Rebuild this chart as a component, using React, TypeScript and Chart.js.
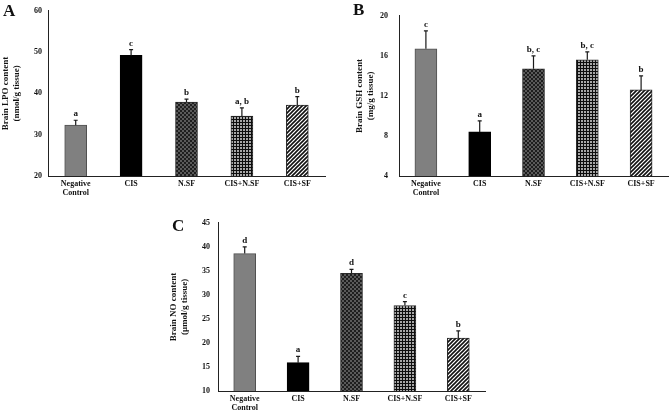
import React, { useEffect, useRef } from "react";
import { Chart, registerables } from "chart.js";

Chart.register(...registerables);

const FONT = "'Liberation Serif', 'Times New Roman', serif";

const categories: (string | string[])[] = [["Negative", "Control"], "CIS", "N.SF", "CIS+N.SF", "CIS+SF"];

const lpoMeans = [32.3, 49.2, 37.9, 34.5, 37.2];
const lpoErrors = [1.2, 1.4, 0.7, 2.0, 2.0];
const lpoLetters = ["a", "c", "b", "a, b", "b"];
const lpoTitle = ["Brain LPO content", "(nmol/g tissue)"];
const lpoTicks = { min: 20, max: 60, step: 10 };

const gshMeans = [16.7, 8.4, 14.7, 15.6, 12.6];
const gshErrors = [1.8, 1.1, 1.3, 0.8, 1.4];
const gshLetters = ["c", "a", "b, c", "b, c", "b"];
const gshTitle = ["Brain GSH content", "(mg/g tissue)"];
const gshTicks = { min: 4, max: 20, step: 4 };

const noMeans = [38.6, 15.9, 34.5, 27.8, 21.0];
const noErrors = [1.4, 1.3, 0.8, 0.8, 1.5];
const noLetters = ["d", "a", "d", "c", "b"];
const noTitle = ["Brain NO content", "(µmol/g tissue)"];
const noTicks = { min: 10, max: 45, step: 5 };

function tile(size: number, draw: (c: CanvasRenderingContext2D) => void): CanvasPattern {
  const cv = document.createElement("canvas");
  cv.width = size;
  cv.height = size;
  const c = cv.getContext("2d")!;
  draw(c);
  const ctx = document.createElement("canvas").getContext("2d")!;
  return ctx.createPattern(cv, "repeat")!;
}

function makeFills(): (string | CanvasPattern)[] {
  const checker = tile(4, (c) => {
    c.fillStyle = "#1e1e1e";
    c.fillRect(0, 0, 4, 4);
    c.fillStyle = "#5a5a5a";
    c.fillRect(0, 0, 2, 2);
    c.fillRect(2, 2, 2, 2);
  });
  const dots = tile(3, (c) => {
    c.fillStyle = "#0e0e0e";
    c.fillRect(0, 0, 3, 3);
    c.fillStyle = "#a8a8a8";
    c.fillRect(0, 0, 2, 2);
  });
  const stripes = tile(4, (c) => {
    c.fillStyle = "#ffffff";
    c.fillRect(0, 0, 4, 4);
    c.strokeStyle = "#111";
    c.lineWidth = 1.6;
    c.beginPath();
    c.moveTo(-1, 5);
    c.lineTo(5, -1);
    c.moveTo(-1, 1);
    c.lineTo(1, -1);
    c.moveTo(3, 5);
    c.lineTo(5, 3);
    c.stroke();
  });
  return ["#808080", "#000000", checker, dots, stripes];
}

const annotPlugin = {
  id: "annot",
  afterDatasetsDraw(chart: any, _args: any, opts: any) {
    const ctx = chart.ctx as CanvasRenderingContext2D;
    const meta = chart.getDatasetMeta(0);
    const ys = chart.scales.y;
    ctx.save();
    ctx.strokeStyle = "#1a1a1a";
    ctx.lineWidth = 1.2;
    ctx.fillStyle = "#111";
    meta.data.forEach((bar: any, i: number) => {
      const x = bar.x;
      const y0 = ys.getPixelForValue(opts.means[i]);
      const y1 = ys.getPixelForValue(opts.means[i] + opts.errors[i]);
      ctx.beginPath();
      ctx.moveTo(x, y0);
      ctx.lineTo(x, y1);
      ctx.moveTo(x - 2, y1);
      ctx.lineTo(x + 2, y1);
      ctx.stroke();
      ctx.font = `bold 9px ${FONT}`;
      ctx.textAlign = "center";
      ctx.textBaseline = "alphabetic";
      ctx.fillText(opts.letters[i], x, y1 - 4);
    });
    ctx.font = `bold 17px ${FONT}`;
    ctx.textAlign = "left";
    ctx.textBaseline = "alphabetic";
    ctx.fillText(opts.panel, opts.panelX, opts.panelY);
    ctx.restore();
  },
};

type PanelProps = {
  left: number;
  top: number;
  width: number;
  height: number;
  panel: string;
  panelX: number;
  panelY: number;
  means: number[];
  errors: number[];
  letters: string[];
  title: string[];
  ticks: { min: number; max: number; step: number };
  yAxisWidth: number;
  tickPad: number;
  titlePad: number;
  padTop: number;
  padRight: number;
  xAxisHeight: number;
};

function Panel(p: PanelProps) {
  const ref = useRef<HTMLCanvasElement>(null);
  useEffect(() => {
    if (!ref.current) return;
    const fills = makeFills();
    const chart = new Chart(ref.current, {
      type: "bar",
      data: {
        labels: categories,
        datasets: [
          {
            data: p.means,
            backgroundColor: fills as any,
            borderColor: ["#505050", "#000", "#2a2a2a", "#2a2a2a", "#2a2a2a"],
            borderWidth: 1,
            barThickness: 22,
          },
        ],
      },
      options: {
        animation: false,
        responsive: false,
        devicePixelRatio: 1,
        layout: { padding: { top: p.padTop, right: p.padRight, left: 0, bottom: 0 } },
        plugins: {
          legend: { display: false },
          tooltip: { enabled: false },
          annot: {
            means: p.means,
            errors: p.errors,
            letters: p.letters,
            panel: p.panel,
            panelX: p.panelX,
            panelY: p.panelY,
          },
        } as any,
        scales: {
          x: {
            grid: { display: false, drawTicks: false },
            border: { display: true, color: "#222", width: 1 },
            ticks: {
              color: "#111",
              font: { family: FONT, size: 8, weight: "bold", lineHeight: 1.1 },
              padding: 4,
              maxRotation: 0,
              autoSkip: false,
            },
            afterFit: (s: any) => {
              s.height = p.xAxisHeight;
            },
          },
          y: {
            min: p.ticks.min,
            max: p.ticks.max,
            grid: { display: false, drawTicks: false },
            border: { display: true, color: "#222", width: 1 },
            ticks: {
              stepSize: p.ticks.step,
              color: "#111",
              padding: p.tickPad,
              font: { family: FONT, size: 8, weight: "bold" },
            },
            title: {
              display: true,
              text: p.title,
              color: "#111",
              font: { family: FONT, size: 9, weight: "bold", lineHeight: 1.2 },
              padding: { top: p.titlePad, bottom: 0 },
            },
            afterFit: (s: any) => {
              s.width = p.yAxisWidth;
            },
          },
        },
      },
      plugins: [annotPlugin as any],
    });
    return () => chart.destroy();
  }, []);
  return (
    <div style={{ position: "absolute", left: p.left, top: p.top, width: p.width, height: p.height }}>
      <canvas ref={ref} width={p.width} height={p.height} style={{ display: "block" }} />
    </div>
  );
}

export default function App() {
  return (
    <div style={{ position: "fixed", left: 0, top: 0, width: 669, height: 414, background: "#fff", overflow: "hidden" }}>
      <Panel
        left={0}
        top={0}
        width={330}
        height={200}
        panel="A"
        panelX={3}
        panelY={16}
        means={lpoMeans}
        errors={lpoErrors}
        letters={lpoLetters}
        title={lpoTitle}
        ticks={lpoTicks}
        yAxisWidth={48}
        tickPad={6}
        titlePad={0.6}
        padTop={5}
        padRight={5}
        xAxisHeight={24}
      />
      <Panel
        left={335}
        top={0}
        width={334}
        height={200}
        panel="B"
        panelX={18}
        panelY={15}
        means={gshMeans}
        errors={gshErrors}
        letters={gshLetters}
        title={gshTitle}
        ticks={gshTicks}
        yAxisWidth={64}
        tickPad={11}
        titlePad={19}
        padTop={5}
        padRight={1}
        xAxisHeight={24}
      />
      <Panel
        left={160}
        top={210}
        width={330}
        height={204}
        panel="C"
        panelX={12}
        panelY={21}
        means={noMeans}
        errors={noErrors}
        letters={noLetters}
        title={noTitle}
        ticks={noTicks}
        yAxisWidth={58}
        tickPad={8}
        titlePad={8.6}
        padTop={10}
        padRight={5}
        xAxisHeight={23}
      />
    </div>
  );
}
